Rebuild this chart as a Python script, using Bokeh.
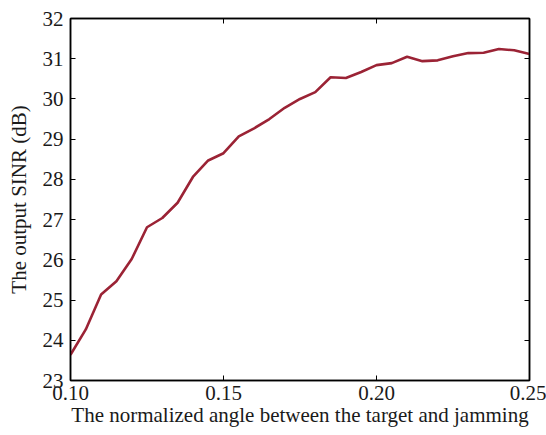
from bokeh.plotting import figure
from bokeh.models import (LinearAxis, FixedTicker, PrintfTickFormatter, Range1d,
                          CustomLabelingPolicy)
from bokeh.embed import file_html
from bokeh.resources import INLINE

# Normalized angle between target and jamming
angle = [0.100, 0.105, 0.110, 0.115, 0.120, 0.125, 0.130, 0.135, 0.140, 0.145,
         0.150, 0.155, 0.160, 0.165, 0.170, 0.175, 0.180, 0.185, 0.190, 0.195,
         0.200, 0.205, 0.210, 0.215, 0.220, 0.225, 0.230, 0.235, 0.240, 0.245,
         0.250]
# Output SINR in dB
sinr = [23.64, 24.27, 25.14, 25.47, 26.02, 26.81, 27.04, 27.42, 28.06, 28.47,
        28.65, 29.07, 29.27, 29.50, 29.78, 30.00, 30.17, 30.54, 30.52, 30.67,
        30.84, 30.89, 31.05, 30.94, 30.96, 31.06, 31.14, 31.15, 31.24, 31.21,
        31.12]

x_ticks = [0.10, 0.15, 0.20, 0.25]
y_ticks = [23, 24, 25, 26, 27, 28, 29, 30, 31, 32]

FONT = "Liberation Serif"
TEXT = "#1a1a1a"

p = figure(width=546, height=435, output_backend="svg", toolbar_location=None,
           x_range=Range1d(0.10, 0.25), y_range=Range1d(23, 32),
           min_border_left=70, min_border_right=17, min_border_top=18,
           min_border_bottom=55)
p.grid.visible = False
p.outline_line_color = "black"
p.outline_line_width = 1.5

p.line(angle, sinr, line_color="#9B2335", line_width=2.6)

# hides every tick label on the mirrored (top/right) axes
no_labels = CustomLabelingPolicy(code="""
    for (const i of indices) { indices.unset(i) }
    return indices
""")

def style(ax):
    ax.axis_line_color = "black"
    ax.axis_line_width = 1.5
    ax.major_tick_in = 5
    ax.major_tick_out = 0
    ax.major_tick_line_color = "black"
    ax.major_tick_line_width = 1
    ax.minor_tick_line_color = None
    ax.major_label_text_font = FONT
    ax.major_label_text_font_size = "21px"
    ax.major_label_text_color = TEXT
    ax.axis_label_text_font = FONT
    ax.axis_label_text_font_size = "21px"
    ax.axis_label_text_font_style = "normal"
    ax.axis_label_text_color = TEXT

xa = p.xaxis[0]
style(xa)
xa.ticker = FixedTicker(ticks=x_ticks)
xa.formatter = PrintfTickFormatter(format="%.2f")
xa.axis_label = "The normalized angle between the target and jamming"
xa.major_label_standoff = 5
xa.axis_label_standoff = 0

ya = p.yaxis[0]
style(ya)
ya.ticker = FixedTicker(ticks=y_ticks)
ya.axis_label = "The output SINR (dB)"
ya.major_label_standoff = 7
ya.axis_label_standoff = 9

top = LinearAxis(ticker=FixedTicker(ticks=x_ticks), major_label_policy=no_labels)
style(top)
top.major_label_standoff = 0
top.major_label_text_font_size = "1px"
p.add_layout(top, "above")

right = LinearAxis(ticker=FixedTicker(ticks=y_ticks), major_label_policy=no_labels)
style(right)
right.major_label_standoff = 0
right.major_label_text_font_size = "1px"
p.add_layout(right, "right")

open("out.html", "w").write(file_html(p, INLINE))
